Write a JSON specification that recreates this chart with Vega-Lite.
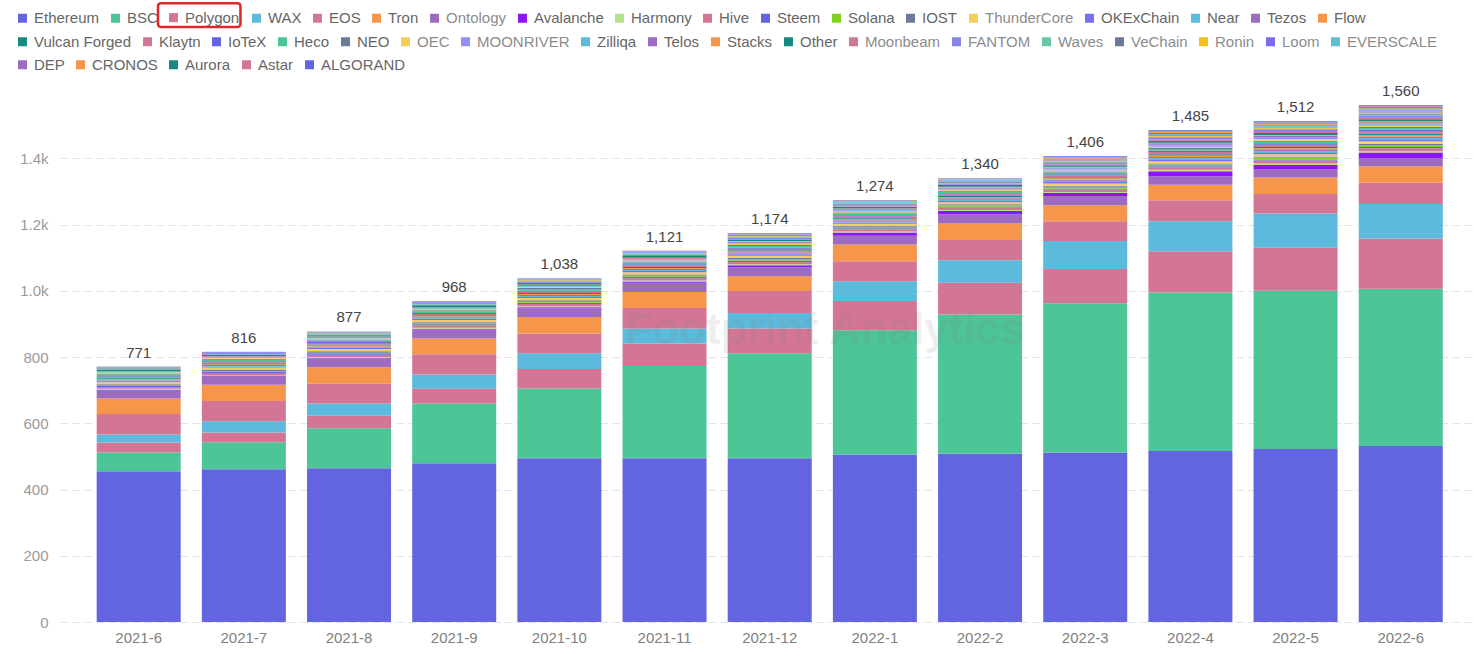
{
"$schema": "https://vega.github.io/schema/vega-lite/v6.json",
"width": 1414, "height": 530,
"autosize": {"type": "none"},
"padding": {"left": 60, "top": 92, "right": 0, "bottom": 37},
"background": "white",
"config": {
  "view": {"stroke": null},
  "font": "Liberation Sans",
  "legend": {"title": null, "orient": "none", "direction": "horizontal", "symbolType": "square", "symbolSize": 81, "symbolStrokeWidth": 0, "symbolOpacity": 1, "labelFontSize": 15, "labelColor": "#666666", "labelFont": "Liberation Sans", "labelOffset": 7, "columnPadding": 0, "padding": 0, "labelLimit": 300}
},
"datasets": {
  "chains": [
    {"c":"Ethereum","k":1},{"c":"BSC","k":2},{"c":"Polygon","k":3},{"c":"WAX","k":4},{"c":"EOS","k":5},{"c":"Tron","k":6},{"c":"Ontology","k":7},{"c":"Avalanche","k":8},{"c":"Harmony","k":9},{"c":"Hive","k":10},{"c":"Steem","k":11},{"c":"Solana","k":12},{"c":"IOST","k":13},{"c":"ThunderCore","k":14},{"c":"OKExChain","k":15},{"c":"Near","k":16},{"c":"Tezos","k":17},{"c":"Flow","k":18},
    {"c":"Vulcan Forged","k":19},{"c":"Klaytn","k":20},{"c":"IoTeX","k":21},{"c":"Heco","k":22},{"c":"NEO","k":23},{"c":"OEC","k":24},{"c":"MOONRIVER","k":25},{"c":"Zilliqa","k":26},{"c":"Telos","k":27},{"c":"Stacks","k":28},{"c":"Other","k":29},{"c":"Moonbeam","k":30},{"c":"FANTOM","k":31},{"c":"Waves","k":32},{"c":"VeChain","k":33},{"c":"Ronin","k":34},{"c":"Loom","k":35},{"c":"EVERSCALE","k":36},
    {"c":"DEP","k":37},{"c":"CRONOS","k":38},{"c":"Aurora","k":39},{"c":"Astar","k":40},{"c":"ALGORAND","k":41}
  ]
},
"data": {"values": [
{"m":"2021-6","c":"Ethereum","v":455},{"m":"2021-7","c":"Ethereum","v":461},{"m":"2021-8","c":"Ethereum","v":464},{"m":"2021-9","c":"Ethereum","v":479},{"m":"2021-10","c":"Ethereum","v":494},{"m":"2021-11","c":"Ethereum","v":494},{"m":"2021-12","c":"Ethereum","v":494},{"m":"2022-1","c":"Ethereum","v":506},{"m":"2022-2","c":"Ethereum","v":509},{"m":"2022-3","c":"Ethereum","v":512},{"m":"2022-4","c":"Ethereum","v":516},{"m":"2022-5","c":"Ethereum","v":522},{"m":"2022-6","c":"Ethereum","v":531},
{"m":"2021-6","c":"BSC","v":57},{"m":"2021-7","c":"BSC","v":82},{"m":"2021-8","c":"BSC","v":121},{"m":"2021-9","c":"BSC","v":181},{"m":"2021-10","c":"BSC","v":211},{"m":"2021-11","c":"BSC","v":279},{"m":"2021-12","c":"BSC","v":317},{"m":"2022-1","c":"BSC","v":375},{"m":"2022-2","c":"BSC","v":419},{"m":"2022-3","c":"BSC","v":450},{"m":"2022-4","c":"BSC","v":479},{"m":"2022-5","c":"BSC","v":478},{"m":"2022-6","c":"BSC","v":475},
{"m":"2021-6","c":"Polygon","v":30},{"m":"2021-7","c":"Polygon","v":29},{"m":"2021-8","c":"Polygon","v":38},{"m":"2021-9","c":"Polygon","v":44},{"m":"2021-10","c":"Polygon","v":59},{"m":"2021-11","c":"Polygon","v":68},{"m":"2021-12","c":"Polygon","v":75},{"m":"2022-1","c":"Polygon","v":88},{"m":"2022-2","c":"Polygon","v":96},{"m":"2022-3","c":"Polygon","v":104},{"m":"2022-4","c":"Polygon","v":124},{"m":"2022-5","c":"Polygon","v":130},{"m":"2022-6","c":"Polygon","v":152},
{"m":"2021-6","c":"WAX","v":24},{"m":"2021-7","c":"WAX","v":34},{"m":"2021-8","c":"WAX","v":37},{"m":"2021-9","c":"WAX","v":43},{"m":"2021-10","c":"WAX","v":47},{"m":"2021-11","c":"WAX","v":45},{"m":"2021-12","c":"WAX","v":47},{"m":"2022-1","c":"WAX","v":60},{"m":"2022-2","c":"WAX","v":68},{"m":"2022-3","c":"WAX","v":84},{"m":"2022-4","c":"WAX","v":91},{"m":"2022-5","c":"WAX","v":103},{"m":"2022-6","c":"WAX","v":104},
{"m":"2021-6","c":"EOS","v":62},{"m":"2021-7","c":"EOS","v":61},{"m":"2021-8","c":"EOS","v":59},{"m":"2021-9","c":"EOS","v":61},{"m":"2021-10","c":"EOS","v":60},{"m":"2021-11","c":"EOS","v":62},{"m":"2021-12","c":"EOS","v":66},{"m":"2022-1","c":"EOS","v":60},{"m":"2022-2","c":"EOS","v":61},{"m":"2022-3","c":"EOS","v":60},{"m":"2022-4","c":"EOS","v":63},{"m":"2022-5","c":"EOS","v":59},{"m":"2022-6","c":"EOS","v":64},
{"m":"2021-6","c":"Tron","v":47},{"m":"2021-7","c":"Tron","v":49},{"m":"2021-8","c":"Tron","v":50},{"m":"2021-9","c":"Tron","v":48},{"m":"2021-10","c":"Tron","v":50},{"m":"2021-11","c":"Tron","v":48},{"m":"2021-12","c":"Tron","v":45},{"m":"2022-1","c":"Tron","v":51},{"m":"2022-2","c":"Tron","v":50},{"m":"2022-3","c":"Tron","v":48},{"m":"2022-4","c":"Tron","v":47},{"m":"2022-5","c":"Tron","v":50},{"m":"2022-6","c":"Tron","v":50},
{"m":"2021-6","c":"Ontology","v":26},{"m":"2021-7","c":"Ontology","v":27},{"m":"2021-8","c":"Ontology","v":27},{"m":"2021-9","c":"Ontology","v":27},{"m":"2021-10","c":"Ontology","v":26},{"m":"2021-11","c":"Ontology","v":28},{"m":"2021-12","c":"Ontology","v":27},{"m":"2022-1","c":"Ontology","v":26},{"m":"2022-2","c":"Ontology","v":28},{"m":"2022-3","c":"Ontology","v":28},{"m":"2022-4","c":"Ontology","v":26},{"m":"2022-5","c":"Ontology","v":24},{"m":"2022-6","c":"Ontology","v":23},
{"m":"2021-6","c":"Avalanche","v":1},{"m":"2021-7","c":"Avalanche","v":1},{"m":"2021-8","c":"Avalanche","v":2},{"m":"2021-9","c":"Avalanche","v":2},{"m":"2021-10","c":"Avalanche","v":3},{"m":"2021-11","c":"Avalanche","v":4},{"m":"2021-12","c":"Avalanche","v":6},{"m":"2022-1","c":"Avalanche","v":10},{"m":"2022-2","c":"Avalanche","v":10},{"m":"2022-3","c":"Avalanche","v":9},{"m":"2022-4","c":"Avalanche","v":15},{"m":"2022-5","c":"Avalanche","v":14},{"m":"2022-6","c":"Avalanche","v":18},
{"m":"2021-6","c":"Harmony","v":2},{"m":"2021-7","c":"Harmony","v":2},{"m":"2021-8","c":"Harmony","v":2},{"m":"2021-9","c":"Harmony","v":3},{"m":"2021-10","c":"Harmony","v":3},{"m":"2021-11","c":"Harmony","v":3},{"m":"2021-12","c":"Harmony","v":3},{"m":"2022-1","c":"Harmony","v":3},{"m":"2022-2","c":"Harmony","v":3},{"m":"2022-3","c":"Harmony","v":3},{"m":"2022-4","c":"Harmony","v":4},{"m":"2022-5","c":"Harmony","v":4},{"m":"2022-6","c":"Harmony","v":4},
{"m":"2021-6","c":"Hive","v":5},{"m":"2021-7","c":"Hive","v":6},{"m":"2021-8","c":"Hive","v":7},{"m":"2021-9","c":"Hive","v":7},{"m":"2021-10","c":"Hive","v":7},{"m":"2021-11","c":"Hive","v":7},{"m":"2021-12","c":"Hive","v":7},{"m":"2022-1","c":"Hive","v":7},{"m":"2022-2","c":"Hive","v":7},{"m":"2022-3","c":"Hive","v":8},{"m":"2022-4","c":"Hive","v":8},{"m":"2022-5","c":"Hive","v":9},{"m":"2022-6","c":"Hive","v":9},
{"m":"2021-6","c":"Steem","v":4},{"m":"2021-7","c":"Steem","v":4},{"m":"2021-8","c":"Steem","v":4},{"m":"2021-9","c":"Steem","v":4},{"m":"2021-10","c":"Steem","v":4},{"m":"2021-11","c":"Steem","v":4},{"m":"2021-12","c":"Steem","v":4},{"m":"2022-1","c":"Steem","v":3},{"m":"2022-2","c":"Steem","v":3},{"m":"2022-3","c":"Steem","v":3},{"m":"2022-4","c":"Steem","v":3},{"m":"2022-5","c":"Steem","v":3},{"m":"2022-6","c":"Steem","v":4},
{"m":"2021-6","c":"Solana","v":1},{"m":"2021-7","c":"Solana","v":2},{"m":"2021-8","c":"Solana","v":2},{"m":"2021-9","c":"Solana","v":2},{"m":"2021-10","c":"Solana","v":3},{"m":"2021-11","c":"Solana","v":3},{"m":"2021-12","c":"Solana","v":4},{"m":"2022-1","c":"Solana","v":4},{"m":"2022-2","c":"Solana","v":4},{"m":"2022-3","c":"Solana","v":5},{"m":"2022-4","c":"Solana","v":5},{"m":"2022-5","c":"Solana","v":6},{"m":"2022-6","c":"Solana","v":6},
{"m":"2021-6","c":"IOST","v":4},{"m":"2021-7","c":"IOST","v":4},{"m":"2021-8","c":"IOST","v":4},{"m":"2021-9","c":"IOST","v":4},{"m":"2021-10","c":"IOST","v":4},{"m":"2021-11","c":"IOST","v":4},{"m":"2021-12","c":"IOST","v":4},{"m":"2022-1","c":"IOST","v":3},{"m":"2022-2","c":"IOST","v":3},{"m":"2022-3","c":"IOST","v":3},{"m":"2022-4","c":"IOST","v":3},{"m":"2022-5","c":"IOST","v":3},{"m":"2022-6","c":"IOST","v":4},
{"m":"2021-6","c":"ThunderCore","v":6},{"m":"2021-7","c":"ThunderCore","v":6},{"m":"2021-8","c":"ThunderCore","v":7},{"m":"2021-9","c":"ThunderCore","v":7},{"m":"2021-10","c":"ThunderCore","v":7},{"m":"2021-11","c":"ThunderCore","v":7},{"m":"2021-12","c":"ThunderCore","v":7},{"m":"2022-1","c":"ThunderCore","v":6},{"m":"2022-2","c":"ThunderCore","v":6},{"m":"2022-3","c":"ThunderCore","v":7},{"m":"2022-4","c":"ThunderCore","v":7},{"m":"2022-5","c":"ThunderCore","v":7},{"m":"2022-6","c":"ThunderCore","v":7},
{"m":"2021-6","c":"OKExChain","v":3},{"m":"2021-7","c":"OKExChain","v":3},{"m":"2021-8","c":"OKExChain","v":3},{"m":"2021-9","c":"OKExChain","v":3},{"m":"2021-10","c":"OKExChain","v":3},{"m":"2021-11","c":"OKExChain","v":4},{"m":"2021-12","c":"OKExChain","v":4},{"m":"2022-1","c":"OKExChain","v":4},{"m":"2022-2","c":"OKExChain","v":4},{"m":"2022-3","c":"OKExChain","v":4},{"m":"2022-4","c":"OKExChain","v":4},{"m":"2022-5","c":"OKExChain","v":4},{"m":"2022-6","c":"OKExChain","v":4},
{"m":"2021-6","c":"Near","v":2},{"m":"2021-7","c":"Near","v":2},{"m":"2021-8","c":"Near","v":2},{"m":"2021-9","c":"Near","v":2},{"m":"2021-10","c":"Near","v":3},{"m":"2021-11","c":"Near","v":3},{"m":"2021-12","c":"Near","v":3},{"m":"2022-1","c":"Near","v":3},{"m":"2022-2","c":"Near","v":4},{"m":"2022-3","c":"Near","v":4},{"m":"2022-4","c":"Near","v":5},{"m":"2022-5","c":"Near","v":5},{"m":"2022-6","c":"Near","v":6},
{"m":"2021-6","c":"Tezos","v":3},{"m":"2021-7","c":"Tezos","v":3},{"m":"2021-8","c":"Tezos","v":3},{"m":"2021-9","c":"Tezos","v":3},{"m":"2021-10","c":"Tezos","v":3},{"m":"2021-11","c":"Tezos","v":3},{"m":"2021-12","c":"Tezos","v":3},{"m":"2022-1","c":"Tezos","v":4},{"m":"2022-2","c":"Tezos","v":4},{"m":"2022-3","c":"Tezos","v":4},{"m":"2022-4","c":"Tezos","v":4},{"m":"2022-5","c":"Tezos","v":4},{"m":"2022-6","c":"Tezos","v":4},
{"m":"2021-6","c":"Flow","v":2},{"m":"2021-7","c":"Flow","v":2},{"m":"2021-8","c":"Flow","v":3},{"m":"2021-9","c":"Flow","v":3},{"m":"2021-10","c":"Flow","v":3},{"m":"2021-11","c":"Flow","v":3},{"m":"2021-12","c":"Flow","v":3},{"m":"2022-1","c":"Flow","v":4},{"m":"2022-2","c":"Flow","v":4},{"m":"2022-3","c":"Flow","v":4},{"m":"2022-4","c":"Flow","v":4},{"m":"2022-5","c":"Flow","v":5},{"m":"2022-6","c":"Flow","v":5},
{"m":"2021-6","c":"Vulcan Forged","v":3},{"m":"2021-7","c":"Vulcan Forged","v":3},{"m":"2021-8","c":"Vulcan Forged","v":3},{"m":"2021-9","c":"Vulcan Forged","v":3},{"m":"2021-10","c":"Vulcan Forged","v":3},{"m":"2021-11","c":"Vulcan Forged","v":3},{"m":"2021-12","c":"Vulcan Forged","v":3},{"m":"2022-1","c":"Vulcan Forged","v":3},{"m":"2022-2","c":"Vulcan Forged","v":3},{"m":"2022-3","c":"Vulcan Forged","v":3},{"m":"2022-4","c":"Vulcan Forged","v":4},{"m":"2022-5","c":"Vulcan Forged","v":4},{"m":"2022-6","c":"Vulcan Forged","v":4},
{"m":"2021-6","c":"Klaytn","v":2},{"m":"2021-7","c":"Klaytn","v":3},{"m":"2021-8","c":"Klaytn","v":4},{"m":"2021-9","c":"Klaytn","v":4},{"m":"2021-10","c":"Klaytn","v":4},{"m":"2021-11","c":"Klaytn","v":5},{"m":"2021-12","c":"Klaytn","v":5},{"m":"2022-1","c":"Klaytn","v":5},{"m":"2022-2","c":"Klaytn","v":5},{"m":"2022-3","c":"Klaytn","v":6},{"m":"2022-4","c":"Klaytn","v":7},{"m":"2022-5","c":"Klaytn","v":7},{"m":"2022-6","c":"Klaytn","v":8},
{"m":"2021-6","c":"IoTeX","v":3},{"m":"2021-7","c":"IoTeX","v":3},{"m":"2021-8","c":"IoTeX","v":3},{"m":"2021-9","c":"IoTeX","v":3},{"m":"2021-10","c":"IoTeX","v":3},{"m":"2021-11","c":"IoTeX","v":3},{"m":"2021-12","c":"IoTeX","v":3},{"m":"2022-1","c":"IoTeX","v":3},{"m":"2022-2","c":"IoTeX","v":3},{"m":"2022-3","c":"IoTeX","v":3},{"m":"2022-4","c":"IoTeX","v":4},{"m":"2022-5","c":"IoTeX","v":4},{"m":"2022-6","c":"IoTeX","v":4},
{"m":"2021-6","c":"Heco","v":5},{"m":"2021-7","c":"Heco","v":5},{"m":"2021-8","c":"Heco","v":5},{"m":"2021-9","c":"Heco","v":5},{"m":"2021-10","c":"Heco","v":5},{"m":"2021-11","c":"Heco","v":5},{"m":"2021-12","c":"Heco","v":5},{"m":"2022-1","c":"Heco","v":5},{"m":"2022-2","c":"Heco","v":5},{"m":"2022-3","c":"Heco","v":5},{"m":"2022-4","c":"Heco","v":5},{"m":"2022-5","c":"Heco","v":5},{"m":"2022-6","c":"Heco","v":5},
{"m":"2021-6","c":"NEO","v":3},{"m":"2021-7","c":"NEO","v":3},{"m":"2021-8","c":"NEO","v":3},{"m":"2021-9","c":"NEO","v":3},{"m":"2021-10","c":"NEO","v":3},{"m":"2021-11","c":"NEO","v":3},{"m":"2021-12","c":"NEO","v":3},{"m":"2022-1","c":"NEO","v":3},{"m":"2022-2","c":"NEO","v":3},{"m":"2022-3","c":"NEO","v":3},{"m":"2022-4","c":"NEO","v":3},{"m":"2022-5","c":"NEO","v":3},{"m":"2022-6","c":"NEO","v":3},
{"m":"2021-6","c":"OEC","v":3},{"m":"2021-7","c":"OEC","v":3},{"m":"2021-8","c":"OEC","v":3},{"m":"2021-9","c":"OEC","v":3},{"m":"2021-10","c":"OEC","v":3},{"m":"2021-11","c":"OEC","v":3},{"m":"2021-12","c":"OEC","v":3},{"m":"2022-1","c":"OEC","v":3},{"m":"2022-2","c":"OEC","v":3},{"m":"2022-3","c":"OEC","v":3},{"m":"2022-4","c":"OEC","v":4},{"m":"2022-5","c":"OEC","v":4},{"m":"2022-6","c":"OEC","v":4},
{"m":"2021-9","c":"MOONRIVER","v":1},{"m":"2021-10","c":"MOONRIVER","v":1},{"m":"2021-11","c":"MOONRIVER","v":2},{"m":"2021-12","c":"MOONRIVER","v":2},{"m":"2022-1","c":"MOONRIVER","v":2},{"m":"2022-2","c":"MOONRIVER","v":2},{"m":"2022-3","c":"MOONRIVER","v":3},{"m":"2022-4","c":"MOONRIVER","v":3},{"m":"2022-5","c":"MOONRIVER","v":4},{"m":"2022-6","c":"MOONRIVER","v":4},
{"m":"2021-6","c":"Zilliqa","v":2},{"m":"2021-7","c":"Zilliqa","v":2},{"m":"2021-8","c":"Zilliqa","v":2},{"m":"2021-9","c":"Zilliqa","v":2},{"m":"2021-10","c":"Zilliqa","v":2},{"m":"2021-11","c":"Zilliqa","v":2},{"m":"2021-12","c":"Zilliqa","v":2},{"m":"2022-1","c":"Zilliqa","v":2},{"m":"2022-2","c":"Zilliqa","v":2},{"m":"2022-3","c":"Zilliqa","v":3},{"m":"2022-4","c":"Zilliqa","v":3},{"m":"2022-5","c":"Zilliqa","v":3},{"m":"2022-6","c":"Zilliqa","v":3},
{"m":"2021-6","c":"Telos","v":2},{"m":"2021-7","c":"Telos","v":2},{"m":"2021-8","c":"Telos","v":3},{"m":"2021-9","c":"Telos","v":3},{"m":"2021-10","c":"Telos","v":3},{"m":"2021-11","c":"Telos","v":3},{"m":"2021-12","c":"Telos","v":3},{"m":"2022-1","c":"Telos","v":3},{"m":"2022-2","c":"Telos","v":3},{"m":"2022-3","c":"Telos","v":3},{"m":"2022-4","c":"Telos","v":4},{"m":"2022-5","c":"Telos","v":4},{"m":"2022-6","c":"Telos","v":4},
{"m":"2021-6","c":"Stacks","v":1},{"m":"2021-7","c":"Stacks","v":1},{"m":"2021-8","c":"Stacks","v":1},{"m":"2021-9","c":"Stacks","v":1},{"m":"2021-10","c":"Stacks","v":2},{"m":"2021-11","c":"Stacks","v":2},{"m":"2021-12","c":"Stacks","v":2},{"m":"2022-1","c":"Stacks","v":2},{"m":"2022-2","c":"Stacks","v":2},{"m":"2022-3","c":"Stacks","v":2},{"m":"2022-4","c":"Stacks","v":2},{"m":"2022-5","c":"Stacks","v":2},{"m":"2022-6","c":"Stacks","v":3},
{"m":"2021-6","c":"Other","v":4},{"m":"2021-7","c":"Other","v":4},{"m":"2021-8","c":"Other","v":4},{"m":"2021-9","c":"Other","v":5},{"m":"2021-10","c":"Other","v":5},{"m":"2021-11","c":"Other","v":5},{"m":"2021-12","c":"Other","v":5},{"m":"2022-1","c":"Other","v":5},{"m":"2022-2","c":"Other","v":5},{"m":"2022-3","c":"Other","v":5},{"m":"2022-4","c":"Other","v":6},{"m":"2022-5","c":"Other","v":6},{"m":"2022-6","c":"Other","v":6},
{"m":"2021-12","c":"Moonbeam","v":1},{"m":"2022-1","c":"Moonbeam","v":1},{"m":"2022-2","c":"Moonbeam","v":1},{"m":"2022-3","c":"Moonbeam","v":2},{"m":"2022-4","c":"Moonbeam","v":3},{"m":"2022-5","c":"Moonbeam","v":3},{"m":"2022-6","c":"Moonbeam","v":4},
{"m":"2021-6","c":"FANTOM","v":1},{"m":"2021-7","c":"FANTOM","v":1},{"m":"2021-8","c":"FANTOM","v":2},{"m":"2021-9","c":"FANTOM","v":2},{"m":"2021-10","c":"FANTOM","v":3},{"m":"2021-11","c":"FANTOM","v":3},{"m":"2021-12","c":"FANTOM","v":4},{"m":"2022-1","c":"FANTOM","v":4},{"m":"2022-2","c":"FANTOM","v":4},{"m":"2022-3","c":"FANTOM","v":5},{"m":"2022-4","c":"FANTOM","v":5},{"m":"2022-5","c":"FANTOM","v":6},{"m":"2022-6","c":"FANTOM","v":6},
{"m":"2021-6","c":"Waves","v":2},{"m":"2021-7","c":"Waves","v":2},{"m":"2021-8","c":"Waves","v":2},{"m":"2021-9","c":"Waves","v":2},{"m":"2021-10","c":"Waves","v":2},{"m":"2021-11","c":"Waves","v":2},{"m":"2021-12","c":"Waves","v":2},{"m":"2022-1","c":"Waves","v":2},{"m":"2022-2","c":"Waves","v":2},{"m":"2022-3","c":"Waves","v":2},{"m":"2022-4","c":"Waves","v":2},{"m":"2022-5","c":"Waves","v":2},{"m":"2022-6","c":"Waves","v":3},
{"m":"2021-6","c":"VeChain","v":2},{"m":"2021-7","c":"VeChain","v":2},{"m":"2021-8","c":"VeChain","v":2},{"m":"2021-9","c":"VeChain","v":2},{"m":"2021-10","c":"VeChain","v":2},{"m":"2021-11","c":"VeChain","v":2},{"m":"2021-12","c":"VeChain","v":2},{"m":"2022-1","c":"VeChain","v":2},{"m":"2022-2","c":"VeChain","v":2},{"m":"2022-3","c":"VeChain","v":2},{"m":"2022-4","c":"VeChain","v":2},{"m":"2022-5","c":"VeChain","v":2},{"m":"2022-6","c":"VeChain","v":3},
{"m":"2021-6","c":"Ronin","v":1},{"m":"2021-7","c":"Ronin","v":1},{"m":"2021-8","c":"Ronin","v":1},{"m":"2021-9","c":"Ronin","v":1},{"m":"2021-10","c":"Ronin","v":2},{"m":"2021-11","c":"Ronin","v":2},{"m":"2021-12","c":"Ronin","v":2},{"m":"2022-1","c":"Ronin","v":2},{"m":"2022-2","c":"Ronin","v":2},{"m":"2022-3","c":"Ronin","v":3},{"m":"2022-4","c":"Ronin","v":3},{"m":"2022-5","c":"Ronin","v":4},{"m":"2022-6","c":"Ronin","v":4},
{"m":"2021-6","c":"Loom","v":2},{"m":"2021-7","c":"Loom","v":2},{"m":"2021-8","c":"Loom","v":2},{"m":"2021-9","c":"Loom","v":2},{"m":"2021-10","c":"Loom","v":2},{"m":"2021-11","c":"Loom","v":2},{"m":"2021-12","c":"Loom","v":2},{"m":"2022-1","c":"Loom","v":2},{"m":"2022-2","c":"Loom","v":2},{"m":"2022-3","c":"Loom","v":2},{"m":"2022-4","c":"Loom","v":2},{"m":"2022-5","c":"Loom","v":2},{"m":"2022-6","c":"Loom","v":3},
{"m":"2021-6","c":"EVERSCALE","v":1},{"m":"2021-7","c":"EVERSCALE","v":1},{"m":"2021-8","c":"EVERSCALE","v":1},{"m":"2021-9","c":"EVERSCALE","v":1},{"m":"2021-10","c":"EVERSCALE","v":1},{"m":"2021-11","c":"EVERSCALE","v":2},{"m":"2021-12","c":"EVERSCALE","v":2},{"m":"2022-1","c":"EVERSCALE","v":2},{"m":"2022-2","c":"EVERSCALE","v":2},{"m":"2022-3","c":"EVERSCALE","v":2},{"m":"2022-4","c":"EVERSCALE","v":3},{"m":"2022-5","c":"EVERSCALE","v":3},{"m":"2022-6","c":"EVERSCALE","v":3},
{"m":"2021-8","c":"DEP","v":1},{"m":"2021-9","c":"DEP","v":1},{"m":"2021-10","c":"DEP","v":1},{"m":"2021-11","c":"DEP","v":1},{"m":"2021-12","c":"DEP","v":1},{"m":"2022-1","c":"DEP","v":1},{"m":"2022-2","c":"DEP","v":1},{"m":"2022-3","c":"DEP","v":2},{"m":"2022-4","c":"DEP","v":3},{"m":"2022-5","c":"DEP","v":3},{"m":"2022-6","c":"DEP","v":3},
{"m":"2021-11","c":"CRONOS","v":1},{"m":"2021-12","c":"CRONOS","v":1},{"m":"2022-1","c":"CRONOS","v":2},{"m":"2022-2","c":"CRONOS","v":2},{"m":"2022-3","c":"CRONOS","v":3},{"m":"2022-4","c":"CRONOS","v":3},{"m":"2022-5","c":"CRONOS","v":4},{"m":"2022-6","c":"CRONOS","v":4},
{"m":"2022-1","c":"Aurora","v":1},{"m":"2022-2","c":"Aurora","v":1},{"m":"2022-3","c":"Aurora","v":1},{"m":"2022-4","c":"Aurora","v":2},{"m":"2022-5","c":"Aurora","v":2},{"m":"2022-6","c":"Aurora","v":3},
{"m":"2021-12","c":"Astar","v":1},{"m":"2022-1","c":"Astar","v":1},{"m":"2022-2","c":"Astar","v":1},{"m":"2022-3","c":"Astar","v":1},{"m":"2022-4","c":"Astar","v":2},{"m":"2022-5","c":"Astar","v":2},{"m":"2022-6","c":"Astar","v":3},
{"m":"2021-9","c":"ALGORAND","v":1},{"m":"2021-10","c":"ALGORAND","v":1},{"m":"2021-11","c":"ALGORAND","v":1},{"m":"2021-12","c":"ALGORAND","v":1},{"m":"2022-1","c":"ALGORAND","v":1},{"m":"2022-2","c":"ALGORAND","v":1},{"m":"2022-3","c":"ALGORAND","v":2},{"m":"2022-4","c":"ALGORAND","v":2},{"m":"2022-5","c":"ALGORAND","v":3},{"m":"2022-6","c":"ALGORAND","v":3}
]},
"transform": [
  {"lookup": "c", "from": {"data": {"name": "chains"}, "key": "c", "fields": ["k"]}},
  {"stack": "v", "groupby": ["m"], "sort": [{"field": "k", "order": "ascending"}], "as": ["y0", "y1"]}
],
"layer": [
  {
    "transform": [{"filter": {"field": "c", "oneOf": ["Ethereum","BSC","Polygon","WAX","EOS","Tron","Ontology","Avalanche","Harmony","Hive","Steem","Solana","IOST","ThunderCore","OKExChain","Near","Tezos","Flow"]}}],
    "mark": {"type": "bar"},
    "encoding": {
      "x": {"field": "m", "type": "nominal", "scale": {"domain": ["2021-6","2021-7","2021-8","2021-9","2021-10","2021-11","2021-12","2022-1","2022-2","2022-3","2022-4","2022-5","2022-6"], "paddingInner": 0.2013, "paddingOuter": 0.323, "align": 0.54}, "axis": {"title": null, "labelAngle": 0, "domain": false, "ticks": false, "labelPadding": 8, "labelFontSize": 15, "labelColor": "#808080", "labelFont": "Liberation Sans", "grid": false}},
      "y": {"field": "y0", "type": "quantitative", "scale": {"domain": [0, 1600], "nice": false, "zero": true}, "axis": {"title": null, "values": [0,200,400,600,800,1000,1200,1400], "labelExpr": "datum.value >= 1000 ? format(datum.value / 1000, '.1f') + 'k' : format(datum.value, 'd')", "grid": true, "gridDash": [8,4], "gridColor": "#e3e3e3", "gridWidth": 1, "domain": false, "ticks": false, "labelPadding": 12, "labelFontSize": 15, "labelColor": "#9a9a9a", "labelFont": "Liberation Sans"}},
      "y2": {"field": "y1"},
      "color": {"field": "c", "type": "nominal",
        "scale": {"domain": ["Ethereum","BSC","Polygon","WAX","EOS","Tron","Ontology","Avalanche","Harmony","Hive","Steem","Solana","IOST","ThunderCore","OKExChain","Near","Tezos","Flow"],
                  "range": ["#6264e0","#4dc596","#d37696","#5cbadc","#d37696","#f5964a","#9d6bc0","#8b17f5","#b4e38c","#d37696","#6264e0","#7ed321","#6b7a99","#f7cd5c","#7b6cf0","#5cbadc","#9d6bc0","#f5964a"]},
        "legend": {"orient": "none", "legendX": -53, "legendY": -89, "direction": "horizontal",
          "encode": {
            "symbols": {"update": {"x": {"value": 15.5}, "y": {"value": 14.5}}},
            "labels": {"update": {"x": {"value": 27}, "y": {"value": 14.5}, "fill": {"signal": "datum.label === 'Ontology' || datum.label === 'ThunderCore' ? '#8c8c8c' : '#666666'"}}},
            "entries": {"update": {"width": {"signal": "datum.index === 2 ? 87 : 0"}, "height": {"value": 25}, "stroke": {"signal": "datum.index === 2 ? '#e3262a' : null"}, "strokeWidth": {"value": 2.5}, "cornerRadius": {"value": 3}}}
          }}}
    }
  },
  {
    "transform": [{"filter": {"field": "c", "oneOf": ["Vulcan Forged","Klaytn","IoTeX","Heco","NEO","OEC","MOONRIVER","Zilliqa","Telos","Stacks","Other","Moonbeam","FANTOM","Waves","VeChain","Ronin","Loom","EVERSCALE"]}}],
    "mark": {"type": "bar"},
    "encoding": {
      "x": {"field": "m", "type": "nominal", "scale": {"domain": ["2021-6","2021-7","2021-8","2021-9","2021-10","2021-11","2021-12","2022-1","2022-2","2022-3","2022-4","2022-5","2022-6"], "paddingInner": 0.2013, "paddingOuter": 0.323, "align": 0.54}},
      "y": {"field": "y0", "type": "quantitative"},
      "y2": {"field": "y1"},
      "color": {"field": "c", "type": "nominal",
        "scale": {"domain": ["Vulcan Forged","Klaytn","IoTeX","Heco","NEO","OEC","MOONRIVER","Zilliqa","Telos","Stacks","Other","Moonbeam","FANTOM","Waves","VeChain","Ronin","Loom","EVERSCALE"],
                  "range": ["#148a80","#d37696","#6264e0","#4dc596","#6b7a99","#f7cd5c","#958df5","#5cbadc","#9d6bc0","#f5964a","#148a80","#d37696","#8585ea","#6ac6a6","#6b7a99","#f5bf1f","#7b6cf0","#5cbfd1"]},
        "legend": {"orient": "none", "legendX": -53, "legendY": -65, "direction": "horizontal",
          "encode": {
            "symbols": {"update": {"x": {"value": 15.5}, "y": {"value": 14.5}}},
            "labels": {"update": {"x": {"value": 27}, "y": {"value": 14.5}, "fill": {"signal": "datum.label === 'OEC' || datum.label === 'MOONRIVER' || datum.label === 'Moonbeam' || datum.label === 'FANTOM' || datum.label === 'Waves' || datum.label === 'VeChain' || datum.label === 'Ronin' || datum.label === 'Loom' || datum.label === 'EVERSCALE' ? '#8c8c8c' : '#666666'"}}}
          }}}
    }
  },
  {
    "transform": [{"filter": {"field": "c", "oneOf": ["DEP","CRONOS","Aurora","Astar","ALGORAND"]}}],
    "mark": {"type": "bar"},
    "encoding": {
      "x": {"field": "m", "type": "nominal", "scale": {"domain": ["2021-6","2021-7","2021-8","2021-9","2021-10","2021-11","2021-12","2022-1","2022-2","2022-3","2022-4","2022-5","2022-6"], "paddingInner": 0.2013, "paddingOuter": 0.323, "align": 0.54}},
      "y": {"field": "y0", "type": "quantitative"},
      "y2": {"field": "y1"},
      "color": {"field": "c", "type": "nominal",
        "scale": {"domain": ["DEP","CRONOS","Aurora","Astar","ALGORAND"], "range": ["#9d6bc0","#f5964a","#148a80","#d37696","#6264e0"]},
        "legend": {"orient": "none", "legendX": -53, "legendY": -42, "direction": "horizontal",
          "encode": {
            "symbols": {"update": {"x": {"value": 15.5}, "y": {"value": 14.5}}},
            "labels": {"update": {"x": {"value": 27}, "y": {"value": 14.5}}}
          }}}
    }
  },
  {
    "transform": [{"aggregate": [{"op": "sum", "field": "v", "as": "total"}], "groupby": ["m"]}],
    "mark": {"type": "text", "baseline": "alphabetic", "dy": -9, "fontSize": 15, "color": "#444444", "font": "Liberation Sans"},
    "encoding": {
      "x": {"field": "m", "type": "nominal"},
      "y": {"field": "total", "type": "quantitative"},
      "text": {"field": "total", "type": "quantitative", "format": ","}
    }
  },
  {
    "data": {"values": [{"t": "Footprint Analytics"}]},
    "mark": {"type": "text", "fontSize": 44, "fontWeight": "bold", "color": "#808080", "opacity": 0.13, "dx": -50, "font": "Liberation Sans"},
    "encoding": {
      "x": {"datum": "2022-1", "type": "nominal"},
      "y": {"datum": 880, "type": "quantitative"},
      "text": {"field": "t", "type": "nominal"}
    }
  }
],
"resolve": {"scale": {"color": "independent"}, "legend": {"color": "independent"}}
}
